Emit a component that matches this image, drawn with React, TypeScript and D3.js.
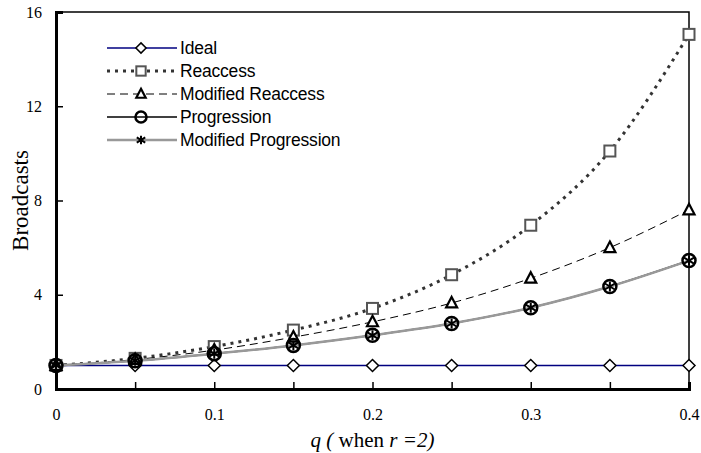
import React, { useRef, useEffect } from 'react';
import * as d3 from 'd3';

const qValues = [0, 0.05, 0.1, 0.15, 0.2, 0.25, 0.3, 0.35, 0.4];
const ideal = [1, 1, 1, 1, 1, 1, 1, 1, 1];
const reaccess = [1, 1.3, 1.8, 2.5, 3.42, 4.85, 6.95, 10.1, 15.05];
const modifiedReaccess = [1, 1.25, 1.65, 2.2, 2.85, 3.65, 4.7, 6.0, 7.6];
const progression = [1, 1.2, 1.5, 1.85, 2.28, 2.78, 3.45, 4.35, 5.45];
const modifiedProgression = [1, 1.2, 1.5, 1.85, 2.28, 2.78, 3.45, 4.35, 5.45];
const xTicks = [0, 0.1, 0.2, 0.3, 0.4];
const yTicks = [0, 4, 8, 12, 16];

const series = [
    { name: 'Ideal', values: ideal, stroke: '#000080', width: 1.5, dash: null, marker: 'diamond' },
    { name: 'Reaccess', values: reaccess, stroke: '#333', width: 3, dash: '3,5', marker: 'square' },
    { name: 'Modified Reaccess', values: modifiedReaccess, stroke: '#000', width: 1, dash: '8,5', marker: 'triangle' },
    { name: 'Progression', values: progression, stroke: '#000', width: 1.5, dash: null, marker: 'circle' },
    { name: 'Modified Progression', values: modifiedProgression, stroke: '#999', width: 2.5, dash: null, marker: 'asterisk' },
];

const drawMarker = (g, type, x, y, k = 1) => {
    if (type === 'diamond') {
        const s = 6 * k;
        g.append('path').attr('d', `M${x},${y - s}L${x + s},${y}L${x},${y + s}L${x - s},${y}Z`)
            .attr('fill', '#fff').attr('stroke', '#000').attr('stroke-width', 1.5);
    } else if (type === 'square') {
        const s = 5.5 * k;
        g.append('rect').attr('x', x - s).attr('y', y - s).attr('width', 2 * s).attr('height', 2 * s)
            .attr('fill', '#fff').attr('stroke', '#555').attr('stroke-width', 2);
    } else if (type === 'triangle') {
        const s = 5.5 * k;
        g.append('path').attr('d', `M${x},${y - s * 1.1}L${x + s},${y + s * 0.8}L${x - s},${y + s * 0.8}Z`)
            .attr('fill', '#fff').attr('stroke', '#000').attr('stroke-width', 2.2);
    } else if (type === 'circle') {
        g.append('circle').attr('cx', x).attr('cy', y).attr('r', 6.5 * k)
            .attr('fill', 'none').attr('stroke', '#000').attr('stroke-width', 2.5);
    } else if (type === 'asterisk') {
        const s = 5 * k;
        g.append('path')
            .attr('d', `M${x},${y - s}V${y + s}M${x - s},${y - s * 0.6}L${x + s},${y + s * 0.6}M${x - s},${y + s * 0.6}L${x + s},${y - s * 0.6}`)
            .attr('stroke', '#000').attr('stroke-width', 2).attr('fill', 'none');
    }
};

const App = () => {
    const ref = useRef();

    useEffect(() => {
        const width = 701;
        const height = 453;
        const margin = { top: 12, right: 12, bottom: 64, left: 56 };

        const svg = d3.select(ref.current);
        svg.selectAll('*').remove();

        const x = d3.scaleLinear().domain([0, 0.4]).range([margin.left, width - margin.right]);
        const y = d3.scaleLinear().domain([0, 16]).range([height - margin.bottom, margin.top]);

        // frame
        svg.append('rect')
            .attr('x', x(0)).attr('y', y(16))
            .attr('width', x(0.4) - x(0)).attr('height', y(0) - y(16))
            .attr('fill', '#fff').attr('stroke', '#000').attr('stroke-width', 1.5);

        const xAxis = svg.append('g')
            .attr('transform', `translate(0,${y(0)})`)
            .call(d3.axisBottom(x).tickValues(qValues).tickSize(-7).tickFormat(d => xTicks.includes(d) ? String(d) : ''));
        xAxis.attr('font-family', '"Liberation Serif", "Times New Roman", serif').attr('font-size', 16);
        xAxis.select('.domain').attr('stroke-width', 3);
        xAxis.selectAll('.tick line').attr('stroke-width', 1.5);
        xAxis.selectAll('text').attr('y', 20).attr('fill', '#000');

        const yAxis = svg.append('g')
            .attr('transform', `translate(${x(0)},0)`)
            .call(d3.axisLeft(y).tickValues(yTicks).tickSize(-7).tickFormat(d3.format('d')));
        yAxis.attr('font-family', '"Liberation Serif", "Times New Roman", serif').attr('font-size', 16);
        yAxis.select('.domain').attr('stroke-width', 3);
        yAxis.selectAll('.tick line').attr('stroke-width', 1.5);
        yAxis.selectAll('text').attr('x', -14).attr('fill', '#000');

        const line = d3.line()
            .x((d, i) => x(qValues[i]))
            .y(d => y(d))
            .curve(d3.curveMonotoneX);

        series.forEach(s => {
            svg.append('path')
                .datum(s.values)
                .attr('fill', 'none')
                .attr('stroke', s.stroke)
                .attr('stroke-width', s.width)
                .attr('stroke-dasharray', s.dash)
                .attr('d', line);
        });

        series.forEach(s => {
            const g = svg.append('g');
            s.values.forEach((v, i) => drawMarker(g, s.marker, x(qValues[i]), y(v)));
        });

        // legend
        const legend = svg.append('g').attr('transform', 'translate(107,48)');
        series.forEach((s, i) => {
            const row = legend.append('g').attr('transform', `translate(0,${i * 23})`);
            row.append('line')
                .attr('x1', 0).attr('x2', 70).attr('y1', 0).attr('y2', 0)
                .attr('stroke', s.stroke)
                .attr('stroke-width', s.width)
                .attr('stroke-dasharray', s.dash);
            drawMarker(row, s.marker, 34, 0, 0.85);
            row.append('text')
                .attr('x', 73).attr('y', 6)
                .style('font-family', '"Liberation Sans", Arial, sans-serif')
                .style('font-size', '17.5px')
                .style('letter-spacing', '-0.2px')
                .text(s.name);
        });

        svg.append('text')
            .attr('transform', `translate(28,${(y(0) + y(16)) / 2}) rotate(-90)`)
            .attr('text-anchor', 'middle')
            .style('font-family', '"Liberation Serif", "Times New Roman", serif')
            .style('font-size', '23px')
            .text('Broadcasts');

        const xl = svg.append('text')
            .attr('x', (x(0) + x(0.4)) / 2)
            .attr('y', 447)
            .attr('text-anchor', 'middle')
            .style('font-family', '"Liberation Serif", "Times New Roman", serif')
            .style('font-size', '21px');
        xl.append('tspan').style('font-style', 'italic').text('q ( ');
        xl.append('tspan').text('when ');
        xl.append('tspan').style('font-style', 'italic').text('r =2)');
    }, []);

    return <svg ref={ref} width={701} height={453} style={{ position: 'absolute', left: 0, top: 0 }}></svg>;
};

export default App;
